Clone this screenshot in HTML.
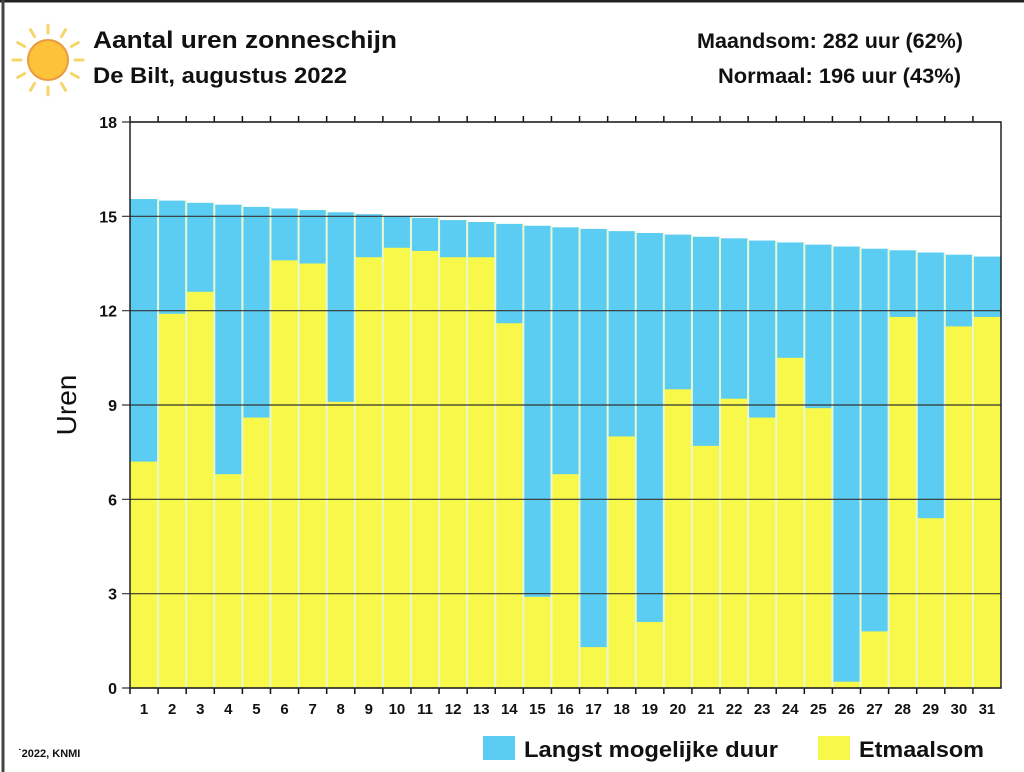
<!DOCTYPE html>
<html><head><meta charset="utf-8"><style>
html,body{margin:0;padding:0;background:#fff;}
svg{display:block;font-family:"Liberation Sans",Arial,sans-serif;}
</style></head><body>
<svg id="chart" width="1024" height="772" viewBox="0 0 1024 772">
<rect x="0" y="0" width="1024" height="772" fill="#fff"/>
<line x1="0" y1="1" x2="1024" y2="1" stroke="#222" stroke-width="3"/>
<line x1="3" y1="0" x2="3" y2="772" stroke="#444" stroke-width="3"/>
<g>
<g stroke="#f6d66a" stroke-width="3" stroke-linecap="round" id="rays"></g>
<circle cx="48" cy="60" r="20" fill="#fbc23a" stroke="#ef9a3a" stroke-width="2"/>
</g>
<text x="93" y="48" font-size="24" font-weight="bold" fill="#111" textLength="304" lengthAdjust="spacingAndGlyphs">Aantal uren zonneschijn</text>
<text x="93" y="83" font-size="22" font-weight="bold" fill="#111" textLength="254" lengthAdjust="spacingAndGlyphs">De Bilt, augustus 2022</text>
<text x="697" y="48" font-size="21" font-weight="bold" fill="#111" textLength="266" lengthAdjust="spacingAndGlyphs">Maandsom: 282 uur (62%)</text>
<text x="718" y="83" font-size="21" font-weight="bold" fill="#111" textLength="243" lengthAdjust="spacingAndGlyphs">Normaal: 196 uur (43%)</text>
<g id="plot"></g>
<text transform="translate(76,405) rotate(-90)" font-size="28" fill="#111" text-anchor="middle">Uren</text>
<text x="18" y="757" font-size="11" font-weight="bold" fill="#111">˙2022, KNMI</text>
<rect x="483" y="736" width="32" height="24" fill="#5bcdf3"/>
<text x="524" y="757" font-size="22" font-weight="bold" fill="#111" textLength="254" lengthAdjust="spacingAndGlyphs">Langst mogelijke duur</text>
<rect x="818" y="736" width="32" height="24" fill="#f8f84a"/>
<text x="859" y="757" font-size="22" font-weight="bold" fill="#111" textLength="125" lengthAdjust="spacingAndGlyphs">Etmaalsom</text>
</svg>
<script>
const days = [1,2,3,4,5,6,7,8,9,10,11,12,13,14,15,16,17,18,19,20,21,22,23,24,25,26,27,28,29,30,31];
const maxHours = [15.55,15.5,15.43,15.37,15.3,15.25,15.2,15.13,15.07,15.0,14.95,14.88,14.82,14.76,14.7,14.65,14.6,14.53,14.47,14.42,14.35,14.3,14.23,14.17,14.1,14.04,13.97,13.92,13.85,13.78,13.72];
const sunHours = [7.2,11.9,12.6,6.8,8.6,13.6,13.5,9.1,13.7,14.0,13.9,13.7,13.7,11.6,2.9,6.8,1.3,8.0,2.1,9.5,7.7,9.2,8.6,10.5,8.9,0.2,1.8,11.8,5.4,11.5,11.8];
const yTicks = [0,3,6,9,12,15,18];

const NS="http://www.w3.org/2000/svg";
const L=130,R=1001,T=122,B=688,YMAX=18;
const bw=(R-L)/days.length;
const xs=i=>L+i*bw;
const ys=v=>B-(v/YMAX)*(B-T);
const plot=document.getElementById('plot');
function mk(tag,attrs,parent){const e=document.createElementNS(NS,tag);for(const k in attrs)e.setAttribute(k,attrs[k]);(parent||plot).appendChild(e);return e;}

const rays=document.getElementById('rays');
for(let k=0;k<12;k++){const a=k*Math.PI/6;mk('line',{x1:48+27*Math.cos(a),y1:60+27*Math.sin(a),x2:48+35*Math.cos(a),y2:60+35*Math.sin(a)},rays);}

days.forEach((d,i)=>{
  const b1=mk('rect',{x:xs(i),y:ys(maxHours[i]),width:bw,height:B-ys(maxHours[i]),fill:'#5bcdf3'});
  
  
  const b2=mk('rect',{x:xs(i),y:ys(sunHours[i]),width:bw,height:B-ys(sunHours[i]),fill:'#f8f84a'});
  
  
  if(i>0){const s=mk('line',{x1:xs(i),y1:ys(maxHours[i-1]),x2:xs(i),y2:B,stroke:'#e8f8d0','stroke-width':2});
  
  }
  const t=mk('line',{x1:xs(i),y1:B,x2:xs(i),y2:B+6,stroke:'#111','stroke-width':1.5});
  
  
  const tt=mk('line',{x1:xs(i),y1:T-6,x2:xs(i),y2:T,stroke:'#111','stroke-width':1.5});
  
  
  const lb=mk('text',{x:xs(i)+bw/2,y:B+26,'font-size':15,'font-weight':'bold','text-anchor':'middle',fill:'#111'});
  lb.textContent=d;
  
  
});
yTicks.forEach(v=>{
  const g=mk('line',{x1:L-8,y1:ys(v),x2:R,y2:ys(v),stroke:'#333','stroke-width':1.2});
  
  
  const tl=mk('text',{x:L-13,y:ys(v)+6,'font-size':16,'font-weight':'bold','text-anchor':'end',fill:'#111'});
  tl.textContent=v;
  
  
});
const fr=mk('rect',{x:L,y:T,width:R-L,height:B-T,fill:'none',stroke:'#222','stroke-width':1.5});


</script>
</body></html>
